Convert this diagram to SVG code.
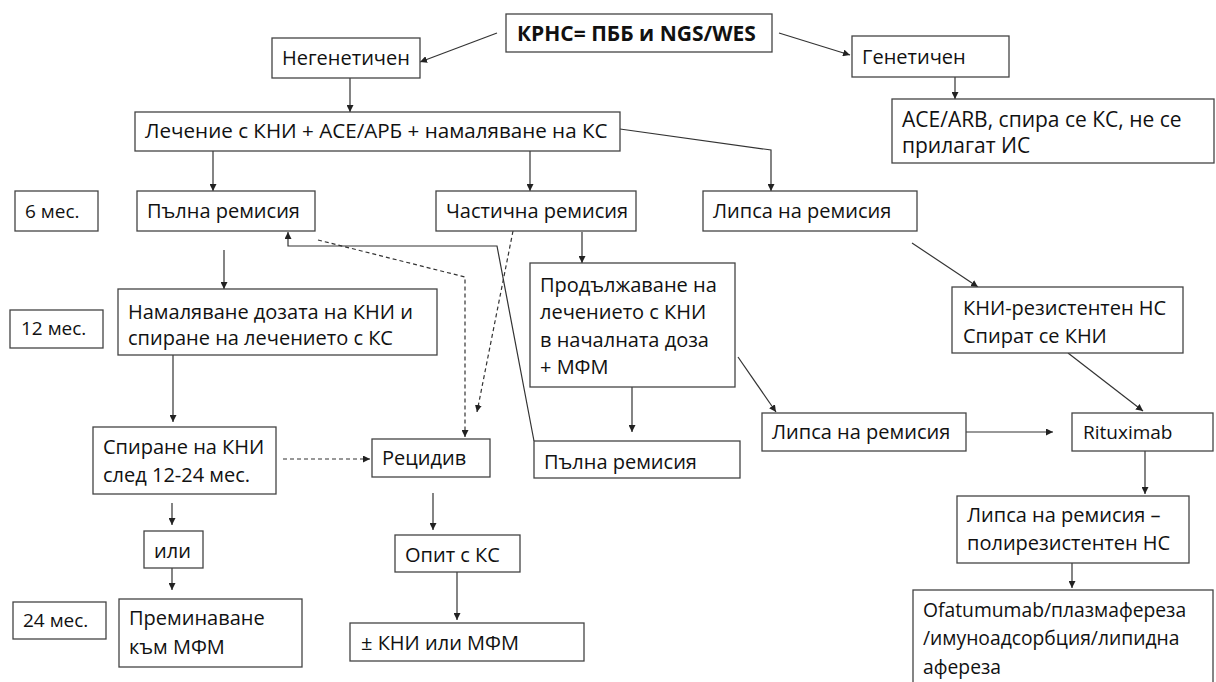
<svg xmlns="http://www.w3.org/2000/svg" width="1216" height="682" viewBox="0 0 1216 682">
<defs>
<marker id="ah" viewBox="0 0 10 10" refX="10" refY="5" markerWidth="7" markerHeight="7" markerUnits="userSpaceOnUse" orient="auto">
<path d="M0,0 L10,5 L0,10 z" fill="#222"/>
</marker>
<style>
rect{fill:#fff;stroke:#444;stroke-width:1.3}
text{font-family:"Open Sans","Noto Sans","Liberation Sans",sans-serif;font-size:20px;fill:#111}
.b{font-weight:bold;font-size:21px}
.s{font-size:19px}
.o{font-size:19.3px}
.l{font-size:21px}
.c{fill:none;stroke:#333;stroke-width:1.2}
.a{marker-end:url(#ah)}
.d{stroke-dasharray:4 3}
</style>
</defs>
<rect x="0" y="0" width="1216" height="682" style="fill:#fff;stroke:none"/>
<g id="connectors">
<path class="c a" d="M497,33 L420,62"/>
<path class="c a" d="M779,33 L850,55"/>
<path class="c a" d="M955,77 L955,99"/>
<path class="c a" d="M350,78 L350,112"/>
<path class="c a" d="M213,151 L213,191"/>
<path class="c a" d="M530,151 L530,191"/>
<path class="c a" d="M620,129 L771,150 L771,191"/>
<path class="c a" d="M224,250 L224,289"/>
<path class="c a" d="M582,232 L582,263"/>
<path class="c a d" d="M513,231 L477,412"/>
<path class="c a" d="M912,243 L978,287"/>
<path class="c a" d="M738,357 L776,412"/>
<path class="c a" d="M632,387 L632,432"/>
<path class="c a" d="M173,355 L173,422"/>
<path class="c a d" d="M283,459 L370,459"/>
<path class="c a" d="M172,503 L172,525"/>
<path class="c a" d="M172,568 L172,590"/>
<path class="c a" d="M433,493 L433,530"/>
<path class="c a" d="M457,572 L457,620"/>
<path class="c a" d="M966,432 L1053,432"/>
<path class="c a" d="M1068,353 L1143,411"/>
<path class="c a" d="M1145,451 L1145,494"/>
<path class="c a" d="M1072,563 L1072,588"/>
<path class="c a" d="M534,441 L497,246 L288,246 L288,232"/>
<path class="c a d" d="M318,240 L465,277 L465,437"/>
</g>
<g id="n_root"><rect x="506" y="14" width="266" height="38"/><text class="b" x="517" y="41">КРНС= ПББ и NGS/WES</text></g>
<g id="n_neg"><rect x="272" y="38" width="148" height="40"/><text x="282" y="65">Негенетичен</text></g>
<g id="n_gen"><rect x="852" y="36" width="157" height="41"/><text x="862" y="64">Генетичен</text></g>
<g id="n_ace"><rect x="892" y="99" width="322" height="64"/><text class="l" x="902" y="127">ACE/ARB, спира се КС, не се</text><text class="l" x="902" y="153">прилагат ИС</text></g>
<g id="n_treat"><rect x="135" y="112" width="485" height="39"/><text x="145" y="138" style="font-size:20.6px">Лечение с КНИ + АСЕ/АРБ + намаляване на КС</text></g>
<g id="m6"><rect x="15" y="191" width="83" height="40"/><text class="s" x="25" y="218">6 мес.</text></g>
<g id="n_cr1"><rect x="137" y="191" width="178" height="40"/><text x="147" y="218">Пълна ремисия</text></g>
<g id="n_pr"><rect x="436" y="191" width="200" height="40"/><text x="446" y="218">Частична ремисия</text></g>
<g id="n_nr1"><rect x="703" y="191" width="214" height="40"/><text x="713" y="218">Липса на ремисия</text></g>
<g id="m12"><rect x="10" y="310" width="93" height="38"/><text class="s" x="21" y="335">12 мес.</text></g>
<g id="n_taper"><rect x="118" y="289" width="319" height="66"/><text x="128" y="319">Намаляване дозата на КНИ и</text><text x="128" y="345">спиране на лечението с КС</text></g>
<g id="n_cont"><rect x="530" y="263" width="205" height="124"/><text x="540" y="292">Продължаване на</text><text x="540" y="319">лечението с КНИ</text><text x="540" y="347">в началната доза</text><text x="540" y="374">+ МФМ</text></g>
<g id="n_res"><rect x="952" y="287" width="231" height="66"/><text x="963" y="315">КНИ-резистентен НС</text><text x="963" y="343">Спират се КНИ</text></g>
<g id="n_stop"><rect x="93" y="427" width="183" height="67"/><text x="103" y="454">Спиране на КНИ</text><text x="103" y="482">след 12-24 мес.</text></g>
<g id="n_rel"><rect x="372" y="439" width="118" height="38"/><text x="382" y="465">Рецидив</text></g>
<g id="n_cr2"><rect x="534" y="441" width="206" height="37"/><text x="544" y="469">Пълна ремисия</text></g>
<g id="n_nr2"><rect x="762" y="413" width="204" height="38"/><text x="772" y="439">Липса на ремисия</text></g>
<g id="n_rtx"><rect x="1072" y="413" width="141" height="38"/><text class="s" x="1083" y="439">Rituximab</text></g>
<g id="n_or"><rect x="144" y="531" width="59" height="37"/><text x="154" y="558">или</text></g>
<g id="n_trial"><rect x="395" y="535" width="125" height="37"/><text x="405" y="562">Опит с КС</text></g>
<g id="n_poly"><rect x="957" y="496" width="232" height="67"/><text x="967" y="522">Липса на ремисия –</text><text x="967" y="550">полирезистентен НС</text></g>
<g id="m24"><rect x="13" y="602" width="93" height="37"/><text class="s" x="23" y="627">24 мес.</text></g>
<g id="n_mmf"><rect x="119" y="599" width="183" height="68"/><text x="129" y="625">Преминаване</text><text x="129" y="654">към МФМ</text></g>
<g id="n_kni"><rect x="350" y="623" width="234" height="38"/><text x="361" y="650">± КНИ или МФМ</text></g>
<g id="n_ofa"><rect x="913" y="590" width="300" height="100"/><text class="o" x="923" y="617">Ofatumumab/плазмафереза</text><text class="o" x="923" y="645">/имуноадсорбция/липидна</text><text class="o" x="923" y="674">афереза</text></g>
</svg>
